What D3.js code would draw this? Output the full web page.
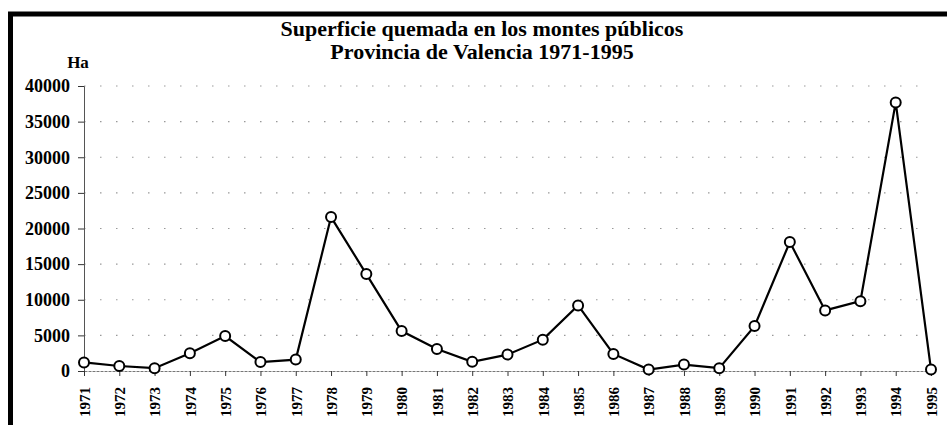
<!DOCTYPE html>
<html>
<head>
<meta charset="utf-8">
<script src="https://cdn.jsdelivr.net/npm/d3@7"></script>
<style>
  body { margin: 0; background: #fff; }
  svg text { font-family: "Liberation Serif", "Times New Roman", serif; font-weight: bold; fill: #000; }
</style>
</head>
<body>
<svg id="canvas" width="947" height="425"></svg>
<script>
// data (Ha burnt per year)
var years = ['1971','1972','1973','1974','1975','1976','1977','1978','1979','1980','1981','1982','1983',
             '1984','1985','1986','1987','1988','1989','1990','1991','1992','1993','1994','1995'];
var hectares = [1200, 700, 400, 2500, 4900, 1250, 1600, 21600, 13600, 5600, 3100, 1300, 2300,
                4400, 9200, 2400, 200, 900, 400, 6300, 18100, 8500, 9800, 37700, 200];
var yTicks = [0, 5000, 10000, 15000, 20000, 25000, 30000, 35000, 40000];
var titleLines = ['Superficie quemada en los montes públicos', 'Provincia de Valencia 1971-1995'];
var yUnit = 'Ha';

var svg = d3.select('#canvas');
var plot = { left: 84, right: 931, top: 86, bottom: 371 };

// frame (left and top edges only, like the scan)
svg.append('path')
  .attr('d', 'M10.5,425 V14 H947')
  .style('fill', 'none').style('stroke', '#000').style('stroke-width', 5);

var x = d3.scalePoint().domain(years).range([plot.left, plot.right]);
var y = d3.scaleLinear().domain([0, 40000]).range([plot.bottom, plot.top]);

// dotted grid
svg.append('g').selectAll('line').data(yTicks.slice(1)).join('line')
  .attr('x1', plot.left).attr('x2', plot.right - 8)
  .attr('y1', d => y(d)).attr('y2', d => y(d))
  .style('stroke', '#999').style('stroke-width', 1.2).style('stroke-dasharray', '1.5,14.5');

// y axis
var yAxis = svg.append('g').attr('transform', 'translate(' + plot.left + ',0)')
  .call(d3.axisLeft(y).tickValues(yTicks).tickSize(6).tickPadding(8).tickFormat(d3.format('d')));
yAxis.select('.domain').style('stroke', '#555').style('stroke-width', 1);
yAxis.selectAll('.tick line').style('stroke', '#333');
yAxis.selectAll('.tick text').style('font-size', '18px').style('font-family', '"Liberation Serif", serif');

// x axis
var xAxis = svg.append('g').attr('transform', 'translate(0,' + plot.bottom + ')')
  .call(d3.axisBottom(x).tickSize(5).tickSizeOuter(0));
xAxis.select('.domain').style('stroke', '#777').style('stroke-width', 1).style('stroke-dasharray', '3,1');
xAxis.selectAll('.tick line').style('stroke', '#333');
xAxis.selectAll('.tick text')
  .attr('transform', 'rotate(-90)')
  .attr('x', -16).attr('y', 0).attr('dy', '0.35em')
  .style('text-anchor', 'end')
  .style('font-size', '15px').style('font-family', '"Liberation Serif", serif');

// series
var lineGen = d3.line().x((d, i) => x(years[i])).y(d => y(d));
svg.append('path').datum(hectares)
  .attr('d', lineGen)
  .style('fill', 'none').style('stroke', '#000').style('stroke-width', 2.2);

svg.append('g').selectAll('circle').data(hectares).join('circle')
  .attr('cx', (d, i) => x(years[i])).attr('cy', d => y(d)).attr('r', 5)
  .style('fill', '#fff').style('stroke', '#000').style('stroke-width', 2);

// titles
svg.append('g').selectAll('text').data(titleLines).join('text')
  .attr('x', 482).attr('y', (d, i) => 36 + i * 23)
  .style('text-anchor', 'middle').style('font-size', '22px')
  .style('font-family', '"Liberation Serif", "Times New Roman", serif')
  .text(d => d);

svg.append('text').attr('x', 78).attr('y', 68)
  .style('text-anchor', 'middle').style('font-size', '17px')
  .text(yUnit);
</script>
</body>
</html>
